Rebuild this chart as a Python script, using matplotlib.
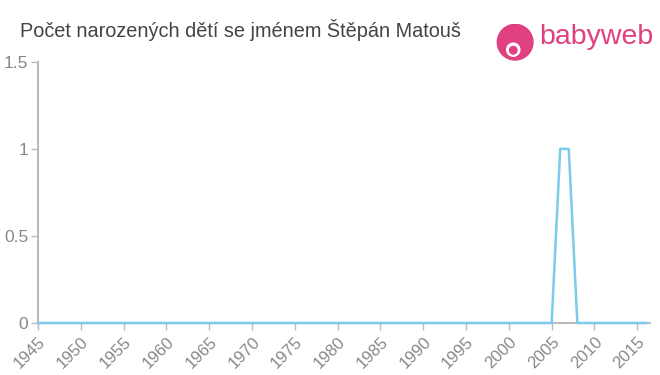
import matplotlib
matplotlib.use('Agg')
import matplotlib.pyplot as plt
from matplotlib.patches import Circle

plt.rcParams['font.family'] = ['Liberation Sans', 'DejaVu Sans']

# data
years = list(range(1945, 2017))
counts = [0] * len(years)
counts[years.index(2006)] = 1
counts[years.index(2007)] = 1

xticks = list(range(1945, 2016, 5))
yticks = [0, 0.5, 1, 1.5]
ytick_labels = ['0', '0.5', '1', '1.5']

TITLE = 'Počet narozených dětí se jménem Štěpán Matouš'
LINE_COLOR = '#7ccbea'
AXIS_COLOR = '#bbbbbb'
TICK_COLOR = '#888888'
PINK = '#e0407f'

fig = plt.figure(figsize=(6.6, 3.75), dpi=100)
ax = fig.add_axes([0.0576, 0.1387, 0.9274, 0.6963])

ax.plot(years, counts, color=LINE_COLOR, lw=1.8, zorder=5, clip_on=False)

ax.set_xlim(1945, 2016.5)
ax.set_ylim(0, 1.5)
ax.set_xticks(xticks)
ax.set_xticklabels([str(y) for y in xticks], rotation=45, ha='right',
                   rotation_mode='anchor', fontsize=12, color=TICK_COLOR)
ax.set_yticks(yticks)
ax.set_yticklabels(ytick_labels, fontsize=12.5, color=TICK_COLOR)

for s in ('top', 'right'):
    ax.spines[s].set_visible(False)
for s in ('left', 'bottom'):
    ax.spines[s].set_color(AXIS_COLOR)
    ax.spines[s].set_linewidth(1.5)
ax.tick_params(colors=AXIS_COLOR, length=5, width=1, labelcolor=TICK_COLOR)
ax.tick_params(axis='x', pad=3)
ax.tick_params(axis='y', pad=2)

fig.text(0.03, 0.92, TITLE, fontsize=14.3, color='#444444', va='center')

# logo
lax = fig.add_axes([0.752, 0.835, 0.057, 0.1])
lax.set_xlim(-1, 1)
lax.set_ylim(-1, 1)
lax.set_aspect('equal')
lax.axis('off')
lax.add_patch(Circle((0, 0.05), 0.95, color=PINK))
lax.add_patch(Circle((-0.1, -0.35), 0.35, color='white'))
lax.add_patch(Circle((-0.1, -0.38), 0.2, color=PINK))
fig.text(0.817, 0.9, 'babyweb', fontsize=20.5, color=PINK, va='center')

fig.savefig('out.png')
